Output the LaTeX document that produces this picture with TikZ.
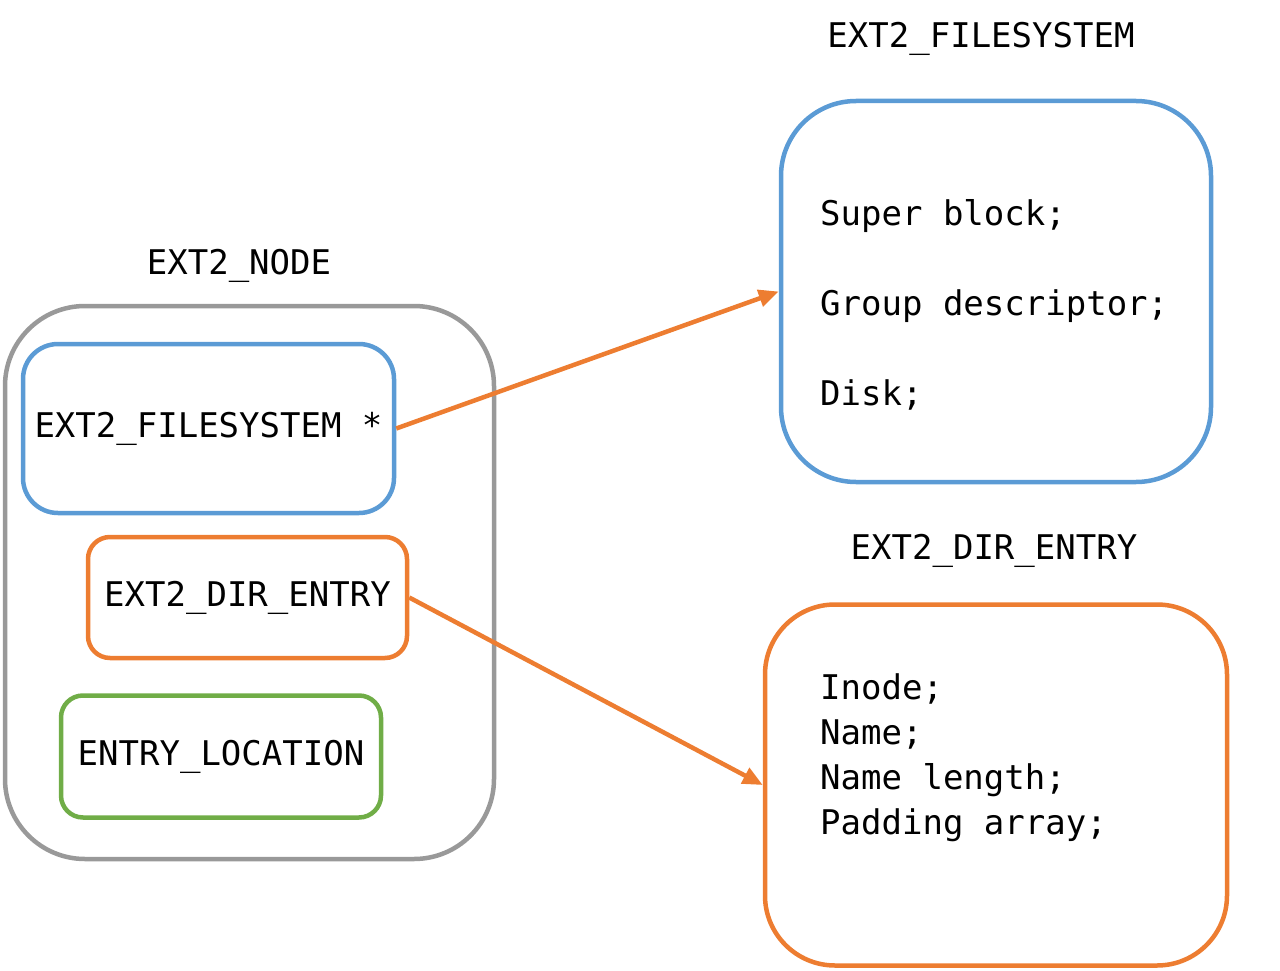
\documentclass[tikz,border=0pt]{standalone}
\usepackage{fontspec}
\setmonofont{DejaVu Sans Mono}
\usetikzlibrary{arrows.meta,positioning}
\definecolor{boxblue}{HTML}{5B9BD5}
\definecolor{boxorange}{HTML}{ED7D31}
\definecolor{boxgreen}{HTML}{70AD47}
\definecolor{boxgray}{HTML}{999999}
\tikzset{
    field/.style={draw, line width=4.5pt, font=\ttfamily\fontsize{34}{45}\selectfont, inner sep=0pt},
    title/.style={font=\ttfamily\fontsize{34}{45}\selectfont, inner sep=0pt},
    lines/.style={font=\ttfamily\fontsize{34}{45}\selectfont, align=left, inner sep=0pt, anchor=west},
    link/.style={boxorange, line width=4.5pt, -{Triangle[length=20pt,width=17pt]}}
}
\begin{document}
\begin{tikzpicture}[x=1pt, y=-1pt]
        \useasboundingbox (0, 0) rectangle (1280, 971);
        \node[field, boxgray, rounded corners=80pt, minimum width=489pt, minimum height=553pt] (node) at (249.5, 582.5) {};
        \node[title] (nodetitle) at (239, 266) {EXT2\_NODE};
        \node[field, boxblue, rounded corners=35pt, minimum width=371pt, minimum height=169pt, text=black] (fsptr) at (208.5, 428.5) {EXT2\_FILESYSTEM *};
        \node[field, boxorange, rounded corners=22pt, minimum width=319pt, minimum height=121pt, text=black] (direntry) at (247.5, 597.5) {EXT2\_DIR\_ENTRY};
        \node[field, boxgreen, rounded corners=22pt, minimum width=320pt, minimum height=122pt, text=black] (entryloc) at (221, 756.5) {ENTRY\_LOCATION};
        \node[field, boxblue, rounded corners=75pt, minimum width=430pt, minimum height=381pt] (fsbox) at (996, 291.5) {};
        \node[title] (fstitle) at (981, 39) {EXT2\_FILESYSTEM};
        \node[lines] (fslines) at (820, 305) {Super block;\\[45pt]Group descriptor;\\[45pt]Disk;};
        \node[field, boxorange, rounded corners=70pt, minimum width=462pt, minimum height=361pt] (dirbox) at (996, 785) {};
        \node[title] (dirtitle) at (994, 551) {EXT2\_DIR\_ENTRY};
        \node[lines] (dirlines) at (820, 758) {Inode;\\Name;\\Name length;\\Padding array;};
        \draw[link] (fsptr.east) -- (fsbox.west);
        \draw[link] (direntry.east) -- (dirbox.west);
    \end{tikzpicture}
\end{document}
